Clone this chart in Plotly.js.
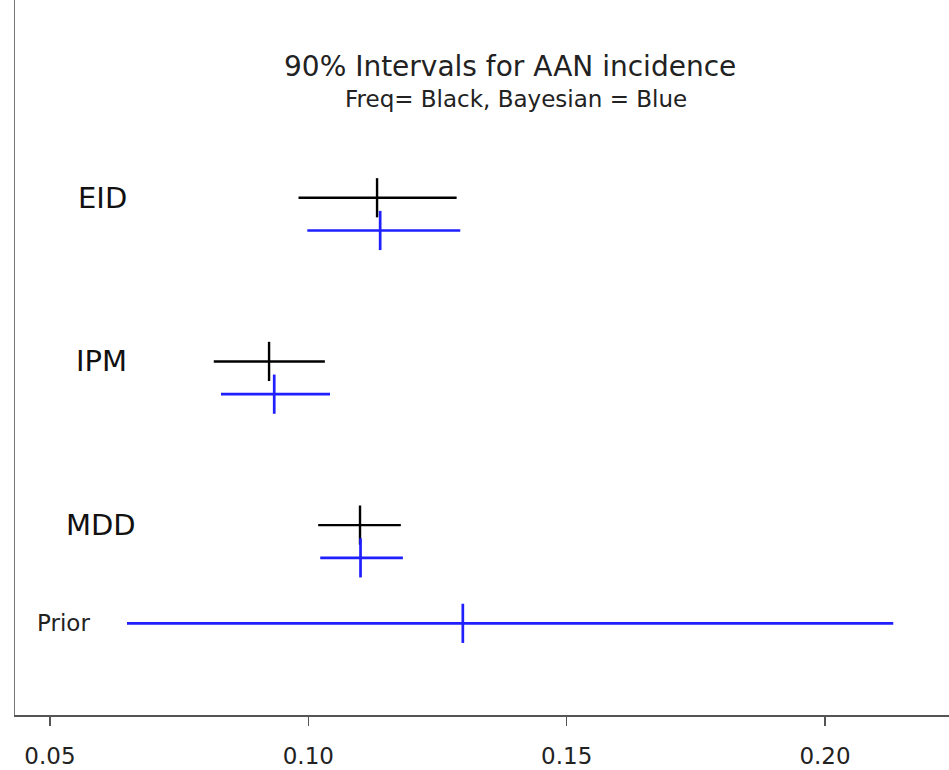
<!DOCTYPE html>
<html>
<head>
<meta charset="utf-8">
<script src="https://cdn.plot.ly/plotly-3.0.1.min.js"></script>
<style>html,body{margin:0;padding:0;background:#fff;}#chart{width:949px;height:770px;}</style>
</head>
<body>
<div id="chart"></div>
<script>
// Data
const groups = ["EID", "IPM", "MDD"];
const freqLower = [0.0981, 0.0817, 0.1019];
const freqEst   = [0.1133, 0.0924, 0.1100];
const freqUpper = [0.1287, 0.1032, 0.1179];
const bayesLower = [0.0998, 0.0831, 0.1023];
const bayesEst   = [0.1139, 0.0934, 0.1101];
const bayesUpper = [0.1294, 0.1042, 0.1183];
const priorLabel = "Prior";
const priorLower = 0.0649;
const priorEst   = 0.1299;
const priorUpper = 0.2132;
const tickVals = [0.05, 0.10, 0.15, 0.20];
const tickText = ["0.05", "0.10", "0.15", "0.20"];
const titleText = "90% Intervals for AAN incidence";
const subtitleText = "Freq= Black, Bayesian = Blue";

const FONT = "DejaVu Sans, Liberation Sans, Arial, sans-serif";
const BLUE = "#1f1fff";

// row layout: group i -> freq row 5i, bayes row 5i+1, prior row 13
const freqRows = groups.map((g, i) => 5 * i);
const bayesRows = groups.map((g, i) => 5 * i + 1);
const priorRow = 13;

function intervalTrace(lo, est, hi, rows, color, lw) {
  return {
    type: "scatter", mode: "markers",
    x: est, y: rows,
    marker: {symbol: "line-ns", size: 28, color: color, line: {color: color, width: lw}},
    error_x: {
      type: "data", symmetric: false,
      array: est.map((e, i) => hi[i] - e),
      arrayminus: est.map((e, i) => e - lo[i]),
      width: 0, thickness: lw, color: color
    },
    showlegend: false, hoverinfo: "x"
  };
}

const traces = [
  intervalTrace(freqLower, freqEst, freqUpper, freqRows, "#000000", 2.4),
  intervalTrace(bayesLower, bayesEst, bayesUpper, bayesRows, BLUE, 2.7),
  intervalTrace([priorLower], [priorEst], [priorUpper], [priorRow], BLUE, 2.7)
];

const annotations = groups.map((g, i) => ({
  text: g, x: [0.0601, 0.0599, 0.0599][i], y: freqRows[i], xref: "x", yref: "y",
  xanchor: "center", yanchor: "middle", showarrow: false,
  font: {family: FONT, size: 29, color: "#111"}
}));
annotations.push({
  text: priorLabel, x: 0.0526, y: priorRow, xref: "x", yref: "y",
  xanchor: "center", yanchor: "middle", showarrow: false,
  font: {family: FONT, size: 23, color: "#222"}
});
annotations.push({
  text: titleText, x: 0.53, y: 0.9063, xref: "paper", yref: "paper",
  xanchor: "center", yanchor: "middle", showarrow: false,
  font: {family: FONT, size: 28, color: "#222"}
});
annotations.push({
  text: subtitleText, x: 0.536, y: 0.8615, xref: "paper", yref: "paper",
  xanchor: "center", yanchor: "middle", showarrow: false,
  font: {family: FONT, size: 23, color: "#222"}
});

const layout = {
  width: 949, height: 770,
  margin: {l: 15, r: 0, t: 0, b: 55, pad: 0},
  paper_bgcolor: "#fff", plot_bgcolor: "#fff",
  xaxis: {
    range: [0.04323, 0.22399], tickvals: tickVals, ticktext: tickText,
    showgrid: false, zeroline: false, showline: true, linecolor: "#555", linewidth: 1.5,
    ticks: "outside", ticklen: 9, tickwidth: 1.5, tickcolor: "#555",
    ticklabelstandoff: 11,
    tickfont: {family: FONT, size: 23, color: "#222"}
  },
  yaxis: {
    range: [15.80, -6.04], showgrid: false, zeroline: false, showticklabels: false,
    ticks: "", showline: true, linecolor: "#777", linewidth: 1.5
  },
  annotations: annotations,
  showlegend: false
};

Plotly.newPlot("chart", traces, layout, {displayModeBar: false, staticPlot: true});
</script>
</body>
</html>
